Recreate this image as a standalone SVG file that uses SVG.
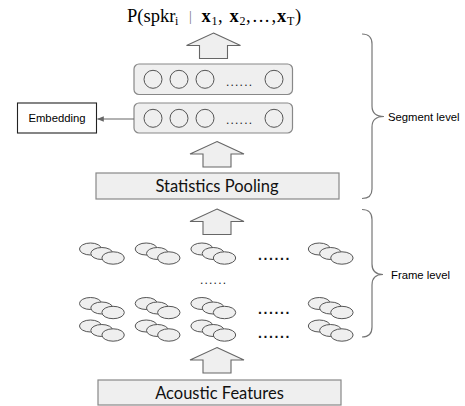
<svg xmlns="http://www.w3.org/2000/svg" width="465" height="406" viewBox="0 0 465 406">
<style>
.blk{fill:#efefef;stroke:#666;stroke-width:1.1}
.box{fill:#efefef;stroke:#888;stroke-width:1.2}
.nd{fill:#efefef;stroke:#555;stroke-width:1}
.lbl{font-family:"Liberation Sans",Arial,sans-serif;font-size:11.3px;fill:#000}
.big{font-family:Lato,"Open Sans",sans-serif;font-size:16.5px;fill:#111;text-anchor:middle}
.dots{font-family:"Liberation Sans",Arial,sans-serif;font-size:12px;letter-spacing:1.2px;fill:#222}
.fdots{font-family:"Liberation Sans",Arial,sans-serif;font-size:14px;font-weight:bold;letter-spacing:1.6px;fill:#111}
.brace{fill:none;stroke:#777;stroke-width:1.2}
.math{font-family:"Liberation Serif","Times New Roman",serif;fill:#000}
</style>
<defs>
<polygon id="blkarrow" points="0,0 27,12.5 14,12.5 14,25.5 -14,25.5 -14,12.5 -27,12.5"/>
<g id="frame">
<ellipse cx="0" cy="0" rx="11" ry="6"/>
<ellipse cx="11.3" cy="4.5" rx="11" ry="6"/>
<ellipse cx="22.6" cy="9" rx="11.2" ry="6.2"/>
</g>
<g id="circles">
<circle cx="153" cy="0" r="9"/>
<circle cx="179" cy="0" r="9"/>
<circle cx="205" cy="0" r="9"/>
<circle cx="274" cy="0" r="9"/>
</g>
<marker id="ah" viewBox="0 0 10 10" refX="9" refY="5" markerWidth="7" markerHeight="7" orient="auto-start-reverse" markerUnits="userSpaceOnUse">
<path d="M0,1 L10,5 L0,9 z" fill="#666"/>
</marker>
</defs>

<g id="title">
<text class="math" y="22" font-size="18.5"><tspan x="127">P(spkr</tspan><tspan x="175" y="25" font-size="12">i</tspan><tspan x="189" y="21" font-size="14" fill="#777">|</tspan><tspan x="201.5" y="22" font-weight="bold">x</tspan><tspan x="211.5" y="25" font-size="12">1</tspan><tspan x="218" y="22">,</tspan><tspan x="229.5" y="22" font-weight="bold">x</tspan><tspan x="239.5" y="25" font-size="12">2</tspan><tspan x="246" y="22">,</tspan><tspan x="252.5" y="22" letter-spacing="1.5">...</tspan><tspan x="271.5" y="22">,</tspan><tspan x="277" y="22" font-weight="bold">x</tspan><tspan x="287" y="25" font-size="12">T</tspan><tspan x="295" y="22">)</tspan></text>
</g>

<g id="output-layer">
<rect class="box" x="134" y="64" width="158.5" height="30.5" rx="5"/>
<use href="#circles" class="nd" y="79.3"/>
<text class="dots" x="226" y="85.5">......</text>
</g>

<g id="embedding-layer">
<rect class="box" x="134" y="103" width="158.5" height="30" rx="5"/>
<use href="#circles" class="nd" y="118.3"/>
<text class="dots" x="226" y="124">......</text>
</g>

<g id="embedding">
<rect x="17.5" y="103" width="79" height="30" fill="#fff" stroke="#222" stroke-width="1.1"/>
<text class="lbl" x="57" y="122" font-size="11" text-anchor="middle">Embedding</text>
</g>

<g id="stats-pooling">
<rect class="box" x="96" y="173" width="243" height="26"/>
<text class="big" x="217" y="192">Statistics Pooling</text>
</g>

<g id="frame-layers" class="nd">
<use href="#frame" x="90.5" y="249"/>
<use href="#frame" x="146.2" y="249"/>
<use href="#frame" x="201.9" y="249"/>
<use href="#frame" x="319.3" y="249"/>
<use href="#frame" x="90.5" y="303.5"/>
<use href="#frame" x="146.2" y="303.5"/>
<use href="#frame" x="201.9" y="303.5"/>
<use href="#frame" x="319.3" y="303.5"/>
<use href="#frame" x="90.5" y="326"/>
<use href="#frame" x="146.2" y="326"/>
<use href="#frame" x="201.9" y="326"/>
<use href="#frame" x="319.3" y="326"/>
</g>
<g id="frame-dots">
<text class="fdots" x="258" y="260">......</text>
<text class="dots" x="200" y="284">......</text>
<text class="fdots" x="258" y="314">......</text>
<text class="fdots" x="258" y="337.5">......</text>
</g>

<g id="acoustic-features">
<rect class="box" x="98" y="380" width="243" height="25"/>
<text class="big" x="219.5" y="398.5">Acoustic Features</text>
</g>

<g id="segment-level">
<path class="brace" d="M362,34 Q372,34 372,44 L372,106 Q372,116.5 384,116.5 Q372,116.5 372,127 L372,189 Q372,198.5 362,198.5"/>
<text class="lbl" x="388" y="120.5">Segment level</text>
</g>

<g id="frame-level">
<path class="brace" d="M362,209.5 Q372,209.5 372,219.5 L372,264 Q372,274.5 383,274.5 Q372,274.5 372,285 L372,327 Q372,337 362,337"/>
<text class="lbl" x="391" y="278.5">Frame level</text>
</g>

<g id="connectors">
<use href="#blkarrow" class="blk" x="213.5" y="33"/>
<use href="#blkarrow" class="blk" x="217" y="141.5"/>
<use href="#blkarrow" class="blk" x="217" y="209"/>
<use href="#blkarrow" class="blk" x="217" y="347.5"/>
<line x1="134" y1="119" x2="97.5" y2="119" stroke="#666" stroke-width="1.1" marker-end="url(#ah)"/>
</g>
</svg>
